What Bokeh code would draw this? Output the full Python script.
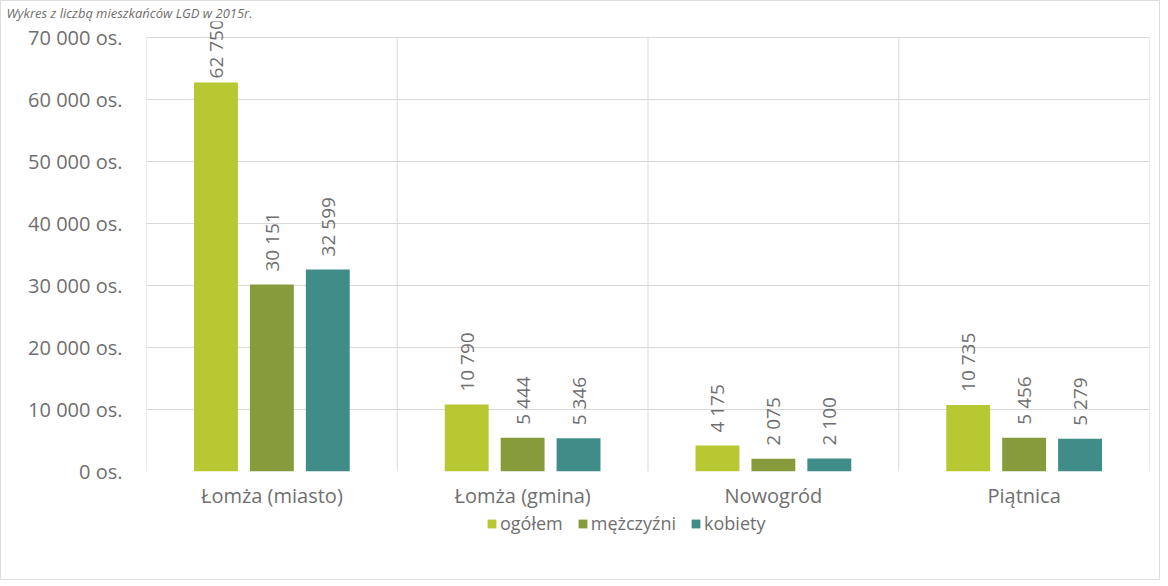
from bokeh.plotting import figure
from bokeh.layouts import column
from bokeh.models import (ColumnDataSource, FixedTicker, CustomJSTickFormatter, LabelSet,
                          Legend, LegendItem, Range1d)
from bokeh.core.properties import value
from bokeh.embed import file_html
from bokeh.resources import INLINE
import math

categories = ["Łomża (miasto)", "Łomża (gmina)", "Nowogród", "Piątnica"]
series_names = ["ogółem", "mężczyźni", "kobiety"]
ogolem = [62750, 10790, 4175, 10735]
mezczyzni = [30151, 5444, 2075, 5456]
kobiety = [32599, 5346, 2100, 5279]
y_ticks = [0, 10000, 20000, 30000, 40000, 50000, 60000, 70000]
Y_TOP = 70000

colors = ["#b8c833", "#879b3c", "#3f8c88"]
offsets = [-0.223, 0.0, 0.223]
bar_w = 0.175
FONT = "Open Sans"
GRAY = "#6f6f6f"
LINE = "#d9d9d9"

# pixel layout: the value axis spans 434 px; the frame reaches 16 px above it so that
# the tallest value label is not clipped
AXIS_PX = 434
HEAD_PX = 16
FRAME_H = AXIS_PX + HEAD_PX
Y_END = Y_TOP * FRAME_H / AXIS_PX
LEFT, FRAME_W, RIGHT = 145, 1003, 10
TOTAL_W = LEFT + FRAME_W + RIGHT

p = figure(frame_width=FRAME_W, frame_height=FRAME_H, output_backend="svg", toolbar_location=None,
           x_range=Range1d(0, len(categories)), y_range=Range1d(0, Y_END),
           min_border_left=LEFT, min_border_right=RIGHT, min_border_top=14, min_border_bottom=30)
p.title.text = "Wykres z liczbą mieszkańców LGD w 2015r."
p.title.text_font = FONT
p.title.text_font_style = "italic"
p.title.text_font_size = "13px"
p.title.text_color = GRAY
p.title.align = "left"
p.title.standoff = 0
p.title.offset = -140

p.outline_line_color = None
p.background_fill_color = "white"

# category boundaries (box sides and separators) stop at the top value tick
bounds = list(range(len(categories) + 1))
p.segment(x0=bounds, x1=bounds, y0=[0] * len(bounds), y1=[Y_TOP] * len(bounds),
          line_color=LINE, line_width=1)

def fmt(v):
    return f"{v:,}".replace(",", " ")

renderers = []
for j, vals in enumerate([ogolem, mezczyzni, kobiety]):
    # a label that would run past the top of the chart is pulled closer to its bar
    yoff = [13 if v / Y_TOP * AXIS_PX + 13 + 62 <= FRAME_H else 4 for v in vals]
    src = ColumnDataSource(dict(
        x=[i + 0.5 + offsets[j] for i in range(len(categories))],
        top=vals,
        lbl=[fmt(v) for v in vals],
        yoff=yoff,
    ))
    r = p.vbar(x="x", top="top", width=bar_w, bottom=0, source=src,
               fill_color=colors[j], line_color=None)
    renderers.append(r)
    p.add_layout(LabelSet(x="x", y="top", text="lbl", source=src, angle=math.pi / 2,
                          y_offset="yoff", text_align="left", text_baseline="middle",
                          text_font=value(FONT), text_font_size="19px", text_color=GRAY))

p.yaxis.ticker = FixedTicker(ticks=y_ticks)
p.yaxis.formatter = CustomJSTickFormatter(
    code="return tick.toFixed(0).replace(/\\B(?=(\\d{3})+(?!\\d))/g, ' ') + ' os.';")
p.yaxis.axis_line_color = None
p.yaxis.major_tick_line_color = None
p.yaxis.minor_tick_line_color = None
p.yaxis.major_label_text_font = FONT
p.yaxis.major_label_text_font_size = "20px"
p.yaxis.major_label_text_color = GRAY
p.yaxis.major_label_standoff = 18

p.xaxis.ticker = FixedTicker(ticks=[i + 0.5 for i in range(len(categories))])
p.xaxis.major_label_overrides = {i + 0.5: c for i, c in enumerate(categories)}
p.xaxis.axis_line_color = None
p.xaxis.major_tick_line_color = None
p.xaxis.minor_tick_line_color = None
p.xaxis.major_label_text_font = FONT
p.xaxis.major_label_text_font_size = "20px"
p.xaxis.major_label_text_color = GRAY
p.xaxis.major_label_standoff = 4

p.ygrid.ticker = FixedTicker(ticks=y_ticks)
p.ygrid.grid_line_color = LINE
p.xgrid.grid_line_color = None

# legend strip below the chart; its swatch renderers hold zero-height bars,
# so only the legend itself shows
LEG_H = 68
pl = figure(width=TOTAL_W, height=LEG_H, output_backend="svg", toolbar_location=None,
            x_range=Range1d(0, 1), y_range=Range1d(0, 1), min_border=0)
pl.axis.visible = False
pl.grid.grid_line_color = None
pl.outline_line_color = None
leg_renderers = [pl.vbar(x=[0.5], top=[0], bottom=[0], width=0.1, fill_color=c, line_color=None)
                 for c in colors]
legend = Legend(items=[LegendItem(label=n, renderers=[r]) for n, r in zip(series_names, leg_renderers)],
                orientation="horizontal", location=(340, LEG_H - 24),
                glyph_width=11, glyph_height=11, label_text_font=FONT,
                label_text_font_size="18px", label_text_color=GRAY,
                border_line_color=None, background_fill_alpha=0,
                spacing=14, label_standoff=3, padding=2, margin=0)
pl.add_layout(legend, "center")

layout = column(p, pl, spacing=0, styles={"border": "1px solid #dedede"})

open("out.html", "w").write(file_html(layout, INLINE))
